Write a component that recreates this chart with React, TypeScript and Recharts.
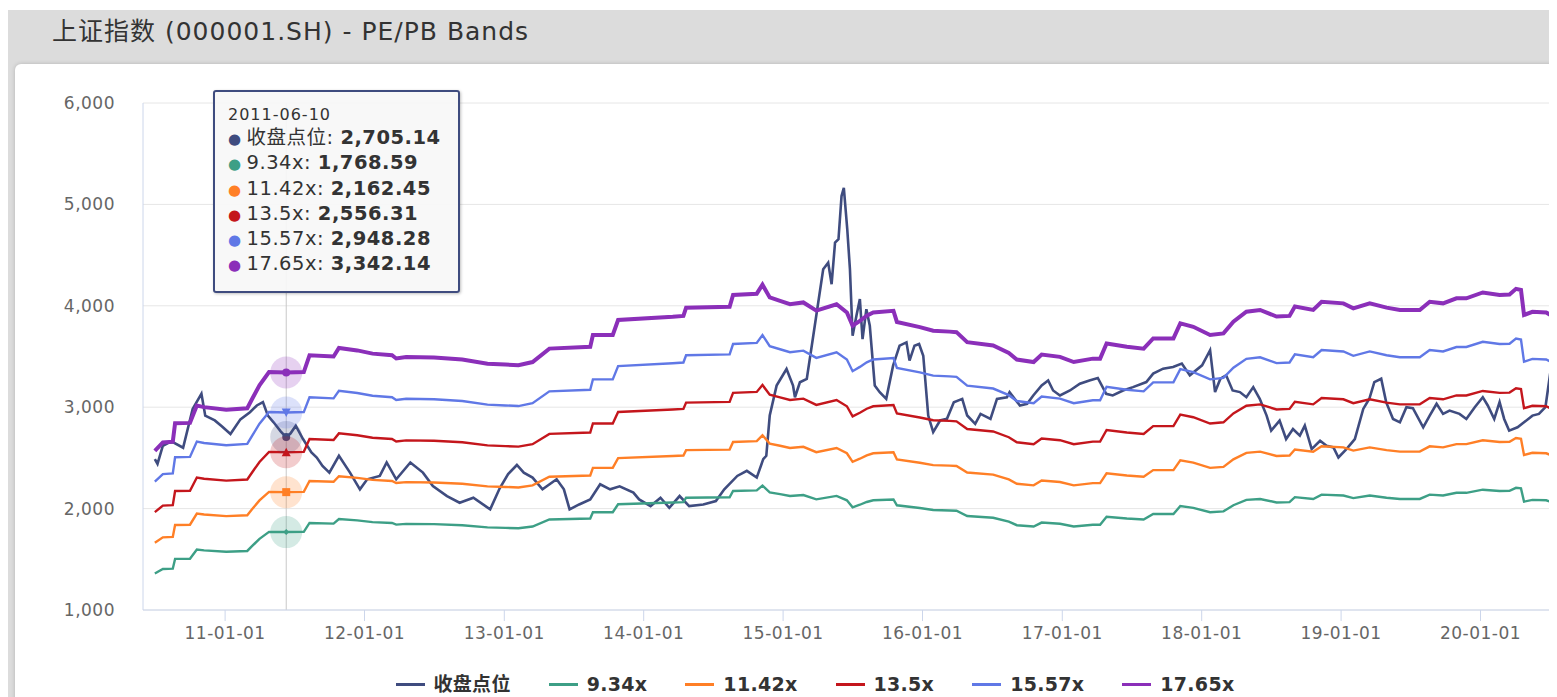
import { CartesianGrid, Legend, Line, LineChart, ReferenceDot, ReferenceLine, XAxis, YAxis } from 'recharts';

// Chart texts
const chartTitle = '上证指数 (000001.SH) - PE/PB Bands';
const closeName = '收盘点位';

// PE multiples of the bands (band value = multiple x implied EPS)
const multiples = [9.34, 11.42, 13.5, 15.57, 17.65];
const seriesColors = ['#3f4c7f', '#3d9f86', '#ff7f26', '#c4161c', '#6078e6', '#8b2fb9'];

// Axis ticks
const yTicks = [1000, 2000, 3000, 4000, 5000, 6000];
const xTickDates = [
  '2011-01-01', '2012-01-01', '2013-01-01', '2014-01-01', '2015-01-01',
  '2016-01-01', '2017-01-01', '2018-01-01', '2019-01-01', '2020-01-01',
];
const xRange = ['2010-05-31', '2020-11-22'];

// Highlighted point of the tooltip
const tooltipDate = '2011-06-10';

// Index close (收盘点位)
const closeSeries: [string, number][] = [
  ['2010-07-01', 2488], ['2010-07-08', 2440], ['2010-07-22', 2620], ['2010-08-07', 2650],
  ['2010-08-17', 2655], ['2010-09-13', 2600], ['2010-10-08', 2983], ['2010-10-31', 3132],
  ['2010-11-10', 2917], ['2010-12-05', 2870], ['2010-12-24', 2810], ['2011-01-15', 2735],
  ['2011-02-10', 2880], ['2011-03-07', 2950], ['2011-03-25', 3017], ['2011-04-10', 3050],
  ['2011-04-23', 2917], ['2011-05-08', 2851], ['2011-05-27', 2760], ['2011-06-10', 2705.14],
  ['2011-06-21', 2740], ['2011-07-05', 2818], ['2011-07-24', 2686], ['2011-08-15', 2554],
  ['2011-08-29', 2504], ['2011-09-13', 2421], ['2011-10-01', 2355], ['2011-10-26', 2521],
  ['2011-11-24', 2355], ['2011-12-20', 2190], ['2012-01-08', 2289], ['2012-02-10', 2322],
  ['2012-02-28', 2455], ['2012-03-24', 2289], ['2012-04-30', 2455], ['2012-06-02', 2355],
  ['2012-06-28', 2223], ['2012-08-04', 2124], ['2012-09-06', 2058], ['2012-10-12', 2107],
  ['2012-11-25', 1992], ['2012-12-20', 2200], ['2013-01-11', 2340], ['2013-02-03', 2430],
  ['2013-02-21', 2355], ['2013-03-16', 2306], ['2013-04-11', 2190], ['2013-05-18', 2289],
  ['2013-06-06', 2190], ['2013-06-21', 1992], ['2013-07-16', 2041], ['2013-08-14', 2091],
  ['2013-09-09', 2240], ['2013-10-05', 2190], ['2013-10-30', 2220], ['2013-12-05', 2157],
  ['2013-12-20', 2091], ['2014-01-19', 2025], ['2014-02-14', 2107], ['2014-03-09', 2008],
  ['2014-04-05', 2124], ['2014-04-30', 2025], ['2014-06-06', 2041], ['2014-07-09', 2074],
  ['2014-07-31', 2190], ['2014-09-03', 2322], ['2014-09-28', 2372], ['2014-10-24', 2306],
  ['2014-11-10', 2488], ['2014-11-18', 2521], ['2014-11-27', 2918], ['2014-12-15', 3213],
  ['2015-01-10', 3377], ['2015-01-27', 3213], ['2015-02-01', 3098], ['2015-02-14', 3246],
  ['2015-03-04', 3279], ['2015-03-21', 3705], ['2015-04-03', 4033], ['2015-04-16', 4361],
  ['2015-04-29', 4426], ['2015-05-08', 4213], ['2015-05-17', 4623], ['2015-05-26', 4656],
  ['2015-06-03', 5082], ['2015-06-09', 5164], ['2015-06-18', 4754], ['2015-06-25', 4361],
  ['2015-07-02', 3705], ['2015-07-12', 3902], ['2015-07-21', 4066], ['2015-07-28', 3672],
  ['2015-08-07', 3967], ['2015-08-16', 3803], ['2015-08-29', 3213], ['2015-09-11', 3148],
  ['2015-09-28', 3082], ['2015-10-16', 3410], ['2015-11-02', 3607], ['2015-11-20', 3639],
  ['2015-11-28', 3459], ['2015-12-11', 3607], ['2015-12-23', 3623], ['2016-01-03', 3508],
  ['2016-01-16', 2918], ['2016-01-29', 2754], ['2016-02-16', 2869], ['2016-03-05', 2885],
  ['2016-03-23', 3049], ['2016-04-14', 3082], ['2016-04-27', 2918], ['2016-05-18', 2836],
  ['2016-06-01', 2934], ['2016-06-27', 2885], ['2016-07-14', 3082], ['2016-08-09', 3098],
  ['2016-08-16', 3149], ['2016-09-12', 3017], ['2016-10-01', 3033], ['2016-10-17', 3116],
  ['2016-11-08', 3215], ['2016-11-25', 3264], ['2016-12-08', 3165], ['2016-12-26', 3116],
  ['2017-01-21', 3165], ['2017-02-16', 3231], ['2017-03-13', 3264], ['2017-04-04', 3288],
  ['2017-04-26', 3132], ['2017-05-13', 3116], ['2017-06-09', 3165], ['2017-07-05', 3198],
  ['2017-08-09', 3248], ['2017-08-27', 3331], ['2017-09-22', 3380], ['2017-10-18', 3397],
  ['2017-11-10', 3430], ['2017-12-01', 3314], ['2018-01-02', 3413], ['2018-01-23', 3562],
  ['2018-02-05', 3149], ['2018-02-19', 3281], ['2018-03-06', 3314], ['2018-03-23', 3165],
  ['2018-04-11', 3149], ['2018-04-28', 3099], ['2018-05-16', 3198], ['2018-06-02', 3083],
  ['2018-06-20', 2917], ['2018-07-02', 2769], ['2018-07-24', 2868], ['2018-08-10', 2686],
  ['2018-08-28', 2785], ['2018-09-15', 2719], ['2018-09-28', 2818], ['2018-10-16', 2587],
  ['2018-11-07', 2669], ['2018-11-24', 2620], ['2018-12-12', 2603], ['2018-12-25', 2504],
  ['2019-01-15', 2587], ['2019-02-06', 2686], ['2019-02-28', 2983], ['2019-03-16', 3083],
  ['2019-03-29', 3248], ['2019-04-16', 3281], ['2019-04-29', 3050], ['2019-05-17', 2884],
  ['2019-06-04', 2851], ['2019-06-21', 3000], ['2019-07-08', 2990], ['2019-08-04', 2802],
  ['2019-08-21', 2917], ['2019-09-08', 3033], ['2019-09-25', 2934], ['2019-10-12', 2967],
  ['2019-11-07', 2934], ['2019-11-25', 2884], ['2019-12-17', 3000], ['2020-01-07', 3099],
  ['2020-01-20', 3017], ['2020-02-06', 2884], ['2020-02-20', 3050], ['2020-03-03', 2884],
  ['2020-03-16', 2769], ['2020-04-07', 2802], ['2020-04-24', 2851], ['2020-05-16', 2917],
  ['2020-06-02', 2934], ['2020-06-19', 3000], ['2020-07-02', 3347],
];

// Implied EPS (index / PE)
const epsSeries: [string, number][] = [
  ['2010-07-01', 145.6], ['2010-07-22', 150.3], ['2010-08-17', 150.7], ['2010-08-23', 161.0],
  ['2010-10-01', 161.2], ['2010-10-19', 170.9], ['2010-11-07', 170.0], ['2011-01-04', 168.6],
  ['2011-02-28', 169.4], ['2011-03-13', 174.7], ['2011-04-01', 182.2], ['2011-04-26', 189.6],
  ['2011-06-10', 189.3565], ['2011-07-26', 189.6], ['2011-08-10', 199.0], ['2011-10-12', 198.3],
  ['2011-10-26', 203.1], ['2011-12-13', 201.7], ['2012-01-22', 199.9], ['2012-03-13', 199.0],
  ['2012-03-24', 197.2], ['2012-04-19', 198.0], ['2012-07-01', 197.7], ['2012-09-13', 196.6],
  ['2012-11-18', 194.3], ['2013-01-04', 193.8], ['2013-02-07', 193.4], ['2013-03-16', 195.2],
  ['2013-04-29', 202.7], ['2013-08-14', 203.7], ['2013-08-21', 210.3], ['2013-10-12', 210.3],
  ['2013-10-26', 218.7], ['2014-03-18', 220.5], ['2014-04-15', 221.0], ['2014-04-22', 225.6],
  ['2014-08-14', 226.1], ['2014-08-23', 232.7], ['2014-10-24', 233.4], ['2014-11-08', 238.4],
  ['2014-11-27', 231.3], ['2014-12-24', 229.4], ['2015-01-19', 227.5], ['2015-02-23', 228.5],
  ['2015-03-29', 223.9], ['2015-05-21', 227.5], ['2015-06-17', 222.9], ['2015-07-02', 215.5],
  ['2015-07-21', 218.2], ['2015-08-08', 221.1], ['2015-08-25', 222.9], ['2015-10-17', 223.8],
  ['2015-10-26', 217.6], ['2015-12-25', 214.7], ['2016-01-29', 212.7], ['2016-03-12', 212.2],
  ['2016-03-30', 211.9], ['2016-04-27', 206.3], ['2016-07-04', 204.5], ['2016-08-14', 200.3],
  ['2016-09-04', 196.6], ['2016-10-18', 195.2], ['2016-11-08', 199.4], ['2016-12-26', 198.1],
  ['2017-01-31', 195.2], ['2017-03-22', 197.1], ['2017-04-10', 197.1], ['2017-04-27', 205.6],
  ['2017-06-19', 203.7], ['2017-08-02', 202.7], ['2017-08-27', 208.4], ['2017-10-19', 208.4],
  ['2017-11-06', 216.8], ['2017-12-10', 214.9], ['2018-01-23', 210.3], ['2018-02-27', 211.2],
  ['2018-03-25', 217.7], ['2018-04-28', 223.3], ['2018-06-03', 224.3], ['2018-07-16', 220.6],
  ['2018-08-19', 221.0], ['2018-09-02', 226.2], ['2018-10-20', 224.3], ['2018-11-11', 228.9],
  ['2019-01-07', 228.0], ['2019-02-02', 225.2], ['2019-03-17', 228.0], ['2019-04-30', 225.6],
  ['2019-06-04', 224.3], ['2019-07-26', 224.3], ['2019-08-21', 228.9], ['2019-09-25', 228.0],
  ['2019-10-30', 230.8], ['2019-11-25', 230.8], ['2020-01-07', 234.1], ['2020-02-20', 232.7],
  ['2020-03-17', 232.9], ['2020-04-03', 236.1], ['2020-04-16', 235.5], ['2020-04-24', 221.5],
  ['2020-05-16', 223.3], ['2020-06-21', 222.9], ['2020-07-02', 221.5],
];

const FONT = '"DejaVu Sans", "Noto Sans CJK SC", sans-serif';
const CHART_W = 1600;
const CHART_H = 640;

interface Point {
  t: number;
  v: number;
}

const toTime = (d: string): number => Date.parse(`${d}T00:00:00Z`);

const formatTick = (t: number): string => {
  const d = new Date(t);
  const yy = String(d.getUTCFullYear()).slice(2);
  const mm = String(d.getUTCMonth() + 1).padStart(2, '0');
  const dd = String(d.getUTCDate()).padStart(2, '0');
  return `${yy}-${mm}-${dd}`;
};

const fmt2 = (v: number): string =>
  v.toLocaleString('en-US', { minimumFractionDigits: 2, maximumFractionDigits: 2 });

const closeData: Point[] = closeSeries.map(([d, v]) => ({ t: toTime(d), v }));
const bandData: Point[][] = multiples.map((m) => epsSeries.map(([d, e]) => ({ t: toTime(d), v: e * m })));
const bandNames = multiples.map((m) => `${m}x`);
const seriesNames = [closeName, ...bandNames];

const tipT = toTime(tooltipDate);
const tipClose = closeSeries.find(([d]) => d === tooltipDate)?.[1] ?? 0;
const tipEps = epsSeries.find(([d]) => d === tooltipDate)?.[1] ?? 0;
const tipValues = [tipClose, ...multiples.map((m) => tipEps * m)];

type MarkerKind = 'circle' | 'diamond' | 'square' | 'triangle' | 'triangle-down';
const markerKinds: MarkerKind[] = ['circle', 'diamond', 'square', 'triangle', 'triangle-down', 'circle'];

// Highlighted marker with a soft halo, as drawn on hover
const Marker = ({ cx, cy, color, kind }: { cx?: number; cy?: number; color: string; kind: MarkerKind }) => {
  if (cx == null || cy == null) return null;
  let symbol;
  if (kind === 'circle') symbol = <circle cx={cx} cy={cy} r={4} fill={color} />;
  else if (kind === 'diamond')
    symbol = <path d={`M${cx},${cy - 3} L${cx + 3},${cy} L${cx},${cy + 3} L${cx - 3},${cy} Z`} fill={color} />;
  else if (kind === 'square') symbol = <rect x={cx - 4} y={cy - 4} width={8} height={8} fill={color} />;
  else if (kind === 'triangle')
    symbol = <path d={`M${cx},${cy - 4.5} L${cx + 4.5},${cy + 4} L${cx - 4.5},${cy + 4} Z`} fill={color} />;
  else symbol = <path d={`M${cx},${cy + 4.5} L${cx + 4.5},${cy - 4} L${cx - 4.5},${cy - 4} Z`} fill={color} />;
  return (
    <g>
      <circle cx={cx} cy={cy} r={16} fill={color} fillOpacity={0.22} />
      {symbol}
    </g>
  );
};

// Legend in series order
const LegendContent = () => (
  <div style={{ display: 'flex', justifyContent: 'center', gap: 38, fontFamily: FONT }}>
    {seriesNames.map((n, i) => (
      <div key={n} style={{ display: 'flex', alignItems: 'center' }}>
        <span style={{ display: 'inline-block', width: 29, height: 3, background: seriesColors[i] }} />
        <span
          style={{ marginLeft: 9, fontSize: 19, fontWeight: 700, color: '#333', lineHeight: '28px', letterSpacing: 0.3 }}
        >
          {n}
        </span>
      </div>
    ))}
  </div>
);

// Static tooltip box shown for the highlighted date
const TooltipBox = () => (
  <div
    style={{
      position: 'absolute',
      left: 198,
      top: 26,
      width: 247,
      boxSizing: 'border-box',
      border: `2px solid ${seriesColors[0]}`,
      borderRadius: 3,
      background: 'rgba(247,247,247,0.92)',
      boxShadow: '1px 1px 3px rgba(0,0,0,0.25)',
      padding: '12px 0 13px 13px',
      fontFamily: FONT,
      color: '#333',
      zIndex: 5,
    }}
  >
    <div style={{ fontSize: 16, lineHeight: '22px', letterSpacing: 1 }}>{tooltipDate}</div>
    {seriesNames.map((n, i) => (
      <div key={n} style={{ fontSize: 19.5, lineHeight: '23.3px', whiteSpace: 'nowrap', letterSpacing: 0.5 }}>
        <span style={{ color: seriesColors[i], fontSize: 15, marginRight: 5 }}>●</span>
        <span>{n}: </span>
        <span style={{ fontWeight: 700 }}>{fmt2(tipValues[i])}</span>
      </div>
    ))}
  </div>
);

export default function App() {
  const tickStyle = { fill: '#666', fontSize: 17, fontFamily: FONT, letterSpacing: 0.5 };
  return (
    <div
      style={{
        marginTop: 2,
        width: 1549,
        height: 687,
        overflow: 'hidden',
        background: '#dcdcdc',
        position: 'relative',
        fontFamily: FONT,
      }}
    >
      <div
        style={{
          position: 'absolute',
          left: 44,
          top: 7,
          fontSize: 25,
          lineHeight: '30px',
          color: '#333',
          letterSpacing: 1,
          whiteSpace: 'nowrap',
        }}
      >
        {chartTitle}
      </div>
      <div
        style={{
          position: 'absolute',
          left: 7,
          top: 54,
          width: CHART_W,
          height: 660,
          background: '#fff',
          borderRadius: 6,
          boxShadow: '0 0 4px rgba(0,0,0,0.18)',
        }}
      >
        <LineChart width={CHART_W} height={CHART_H} margin={{ top: 39, right: 10, bottom: 54, left: 0 }}>
          <CartesianGrid horizontal vertical={false} stroke="#e6e6e6" />
          <XAxis
            type="number"
            dataKey="t"
            domain={[toTime(xRange[0]), toTime(xRange[1])]}
            allowDataOverflow
            ticks={xTickDates.map(toTime)}
            tickFormatter={formatTick}
            stroke="#ccd6eb"
            tick={tickStyle}
            tickSize={11}
            tickMargin={6}
            height={40}
          />
          <YAxis
            type="number"
            domain={[1000, 6000]}
            ticks={yTicks}
            tickFormatter={(v: number) => v.toLocaleString('en-US')}
            stroke="#ccd6eb"
            tick={tickStyle}
            tickLine={false}
            tickSize={0}
            tickMargin={28}
            width={128}
          />
          <ReferenceLine x={tipT} stroke="#c8c8c8" strokeWidth={1} />
          <Line
            data={closeData}
            dataKey="v"
            name={closeName}
            type="linear"
            stroke={seriesColors[0]}
            strokeWidth={2.6}
            dot={false}
            activeDot={false}
            isAnimationActive={false}
          />
          {bandData.map((d, i) => (
            <Line
              key={bandNames[i]}
              data={d}
              dataKey="v"
              name={bandNames[i]}
              type="linear"
              stroke={seriesColors[i + 1]}
              strokeWidth={i === multiples.length - 1 ? 4 : 2.4}
              dot={false}
              activeDot={false}
              isAnimationActive={false}
            />
          ))}
          {tipValues.map((v, i) => (
            <ReferenceDot
              key={seriesNames[i]}
              x={tipT}
              y={v}
              r={4}
              shape={(p: { cx?: number; cy?: number }) => (
                <Marker cx={p.cx} cy={p.cy} color={seriesColors[i]} kind={markerKinds[i]} />
              )}
            />
          ))}
          <Legend
            verticalAlign="middle"
            align="center"
            layout="horizontal"
            wrapperStyle={{ top: 606, left: 0, width: CHART_W }}
            content={<LegendContent />}
          />
        </LineChart>
        <TooltipBox />
      </div>
    </div>
  );
}
